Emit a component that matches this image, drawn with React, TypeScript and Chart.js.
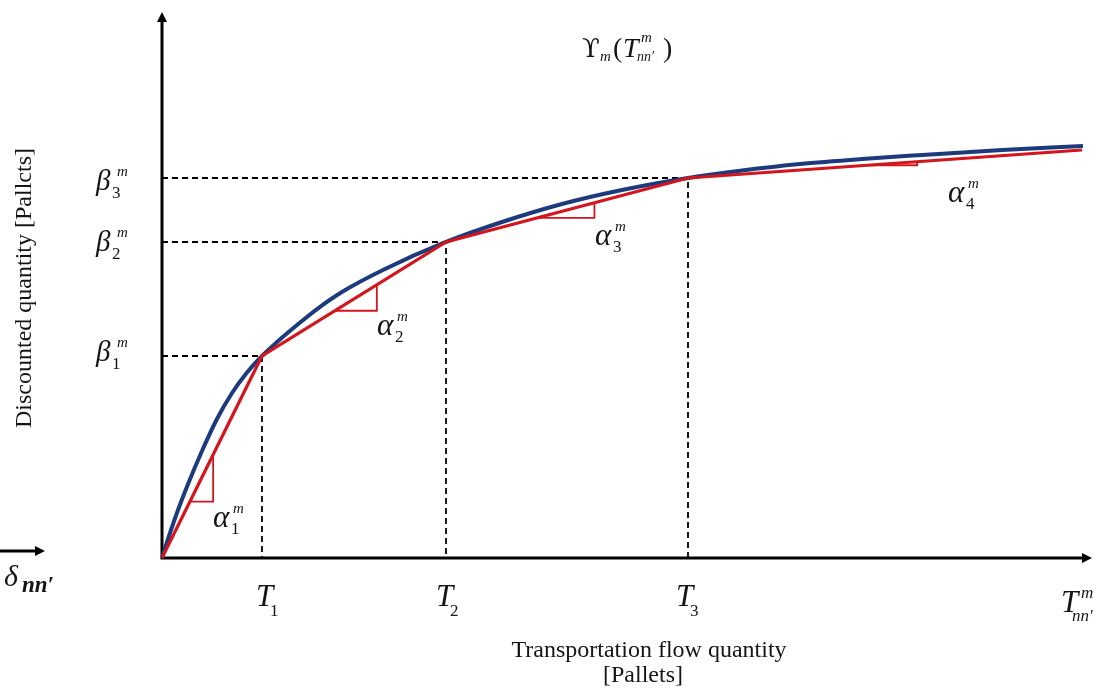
import React, { useEffect, useRef } from "react";
import { Chart, registerables } from "chart.js";

Chart.register(...registerables);

const W = 1113;
const H = 695;

// Smooth (blue) discount function
const blueX = [0, 0.86, 1.72, 2.8, 4.3, 5.91, 7.53, 9.14, 10.75, 12.37, 14.52, 16.67, 19.35, 23.76, 30.54, 36.56, 43.01, 49.46, 56.56, 62.37, 68.6, 75.27, 81.72, 90.32, 99.03];
const blueY = [0, 4.58, 8.79, 13.55, 19.6, 25.46, 30.22, 33.97, 37.0, 39.56, 42.67, 45.6, 48.72, 52.75, 57.88, 61.54, 64.84, 67.4, 69.6, 70.97, 72.16, 73.08, 73.81, 74.73, 75.46];

// Piecewise-linear (red) approximation
const redX = [0, 10.75, 30.54, 56.56, 98.92];
const redY = [0, 37.0, 57.88, 69.6, 74.73];

// Breakpoints T1..T3 / beta1..beta3
const breakX = [10.75, 30.54, 56.56];
const breakY = [37.0, 57.88, 69.6];

// Slope triangles
const triX1 = [3.0, 18.6, 40.3, 75.8];
const triX2 = [5.5, 23.1, 46.5, 81.2];
const triYLow = [10.33, 45.28, 62.28, 71.93];
const triYHigh = [18.93, 50.03, 65.07, 72.58];

const SERIF = '"Liberation Serif", "Times New Roman", serif';
const INK = "#151515";

function txt(ctx: CanvasRenderingContext2D, s: string, x: number, y: number, font: string, align: CanvasTextAlign = "left") {
  ctx.font = font;
  ctx.textAlign = align;
  ctx.textBaseline = "alphabetic";
  ctx.fillText(s, x, y);
}

function arrowHead(ctx: CanvasRenderingContext2D, x: number, y: number, dir: "right" | "up", len = 10, half = 5) {
  ctx.beginPath();
  if (dir === "right") {
    ctx.moveTo(x, y);
    ctx.lineTo(x - len, y - half);
    ctx.lineTo(x - len, y + half);
  } else {
    ctx.moveTo(x, y);
    ctx.lineTo(x - half, y + len);
    ctx.lineTo(x + half, y + len);
  }
  ctx.closePath();
  ctx.fill();
}

const axesPlugin = {
  id: "axesPlugin",
  beforeDatasetsDraw(chart: any) {
    const ctx: CanvasRenderingContext2D = chart.ctx;
    const xs = chart.scales.x;
    const ys = chart.scales.y;
    const x0 = xs.getPixelForValue(0);
    const y0 = ys.getPixelForValue(0);
    const xEnd = xs.getPixelForValue(100);
    const yEnd = ys.getPixelForValue(100);
    ctx.save();
    ctx.strokeStyle = "#000";
    ctx.fillStyle = "#000";
    ctx.lineWidth = 3;
    ctx.beginPath();
    ctx.moveTo(x0 - 1.5, y0);
    ctx.lineTo(xEnd - 8, y0);
    ctx.moveTo(x0, y0 + 1.5);
    ctx.lineTo(x0, yEnd + 8);
    ctx.stroke();
    arrowHead(ctx, xEnd, y0, "right");
    arrowHead(ctx, x0, yEnd, "up");
    ctx.restore();
  },
};

const textPlugin = {
  id: "textPlugin",
  afterDraw(chart: any) {
    const ctx: CanvasRenderingContext2D = chart.ctx;
    ctx.save();
    ctx.fillStyle = INK;
    const it = (s: number) => `italic ${s}px ${SERIF}`;
    const rg = (s: number) => `${s}px ${SERIF}`;

    // alpha labels
    const alphas = [
      [213, 527],
      [377, 335],
      [595, 245],
      [948, 202],
    ];
    alphas.forEach(([x, y], i) => {
      txt(ctx, "α", x, y, it(31));
      txt(ctx, String(i + 1), x + 18, y + 7, rg(17));
      txt(ctx, "m", x + 20, y - 14, it(15));
    });

    // beta labels
    const betas = [361, 251, 190];
    betas.forEach((y, i) => {
      txt(ctx, "β", 96, y, it(29));
      txt(ctx, String(i + 1), 112, y + 8, rg(17));
      txt(ctx, "m", 117, y - 14, it(15));
    });

    // T labels
    const ts = [256, 436, 676];
    ts.forEach((x, i) => {
      txt(ctx, "T", x, 606, it(31));
      txt(ctx, String(i + 1), x + 14, 616, rg(17));
    });
    txt(ctx, "T", 1061, 612, it(31));
    txt(ctx, "m", 1081, 598, it(17));
    txt(ctx, "nn′", 1072, 621, it(17));

    // delta label with arrow
    ctx.strokeStyle = "#000";
    ctx.fillStyle = "#000";
    ctx.lineWidth = 3;
    ctx.beginPath();
    ctx.moveTo(0, 551);
    ctx.lineTo(38, 551);
    ctx.stroke();
    arrowHead(ctx, 45, 551, "right", 10, 5);
    ctx.fillStyle = INK;
    txt(ctx, "δ", 4, 586, it(30));
    txt(ctx, "nn′", 22, 592, `bold italic 23px ${SERIF}`);

    // function label
    txt(ctx, "ϒ", 582, 57, `26px "DejaVu Serif", ${SERIF}`);
    txt(ctx, "m", 600, 61, it(15));
    txt(ctx, "(", 613, 57, rg(28));
    txt(ctx, "T", 623, 57, it(28));
    txt(ctx, "m", 641, 42, it(15));
    txt(ctx, "nn′", 637, 61, it(14));
    txt(ctx, ")", 663, 57, rg(28));

    // axis titles
    txt(ctx, "Transportation flow quantity", 649, 657, rg(24), "center");
    txt(ctx, "[Pallets]", 643, 682, rg(24), "center");
    ctx.translate(25, 288);
    ctx.rotate(-Math.PI / 2);
    ctx.textBaseline = "middle";
    ctx.font = rg(24);
    ctx.textAlign = "center";
    ctx.fillText("Discounted quantity [Pallcts]", 0, 0);
    ctx.restore();
  },
};

export default function App() {
  const ref = useRef<HTMLCanvasElement | null>(null);

  useEffect(() => {
    document.body.style.margin = "0";
    const canvas = ref.current;
    if (!canvas) return;

    const pts = (xs: number[], ys: number[]) => xs.map((x, i) => ({ x, y: ys[i] }));

    const dashSets = breakX.map((t, i) => ({
      label: `dash${i}`,
      data: [
        { x: 0, y: breakY[i] },
        { x: t, y: breakY[i] },
        { x: t, y: 0 },
      ],
      showLine: true,
      borderColor: "#000",
      borderWidth: 1.8,
      borderDash: [6, 4],
      pointRadius: 0,
      tension: 0,
      clip: false as any,
      order: 4,
    }));

    const triSets = triX1.map((x1, i) => ({
      label: `tri${i}`,
      data: [
        { x: x1, y: triYLow[i] },
        { x: triX2[i], y: triYLow[i] },
        { x: triX2[i], y: triYHigh[i] },
      ],
      showLine: true,
      borderColor: "#d2161c",
      borderWidth: 1.8,
      pointRadius: 0,
      tension: 0,
      clip: false as any,
      order: 3,
    }));

    const chart = new Chart(canvas, {
      type: "scatter",
      data: {
        datasets: [
          {
            label: "piecewise",
            data: pts(redX, redY),
            showLine: true,
            borderColor: "#d2161c",
            borderWidth: 3.2,
            pointRadius: 0,
            tension: 0,
            clip: false as any,
            order: 0,
          },
          {
            label: "curve",
            data: pts(blueX, blueY),
            showLine: true,
            borderColor: "#1c3a7c",
            borderWidth: 4,
            pointRadius: 0,
            cubicInterpolationMode: "monotone",
            clip: false as any,
            order: 1,
          },
          ...triSets,
          ...dashSets,
        ] as any,
      },
      options: {
        responsive: false,
        animation: false,
        devicePixelRatio: 1,
        layout: { padding: { left: 162, right: 21, top: 12, bottom: 137 } },
        plugins: { legend: { display: false }, tooltip: { enabled: false }, title: { display: false } },
        scales: {
          x: { type: "linear", min: 0, max: 100, display: false },
          y: { type: "linear", min: 0, max: 100, display: false },
        },
        events: [],
      },
      plugins: [axesPlugin, textPlugin],
    });

    return () => chart.destroy();
  }, []);

  return (
    <div style={{ width: W, height: H, position: "relative", background: "#fff" }}>
      <canvas ref={ref} width={W} height={H} style={{ display: "block", width: W, height: H }} />
    </div>
  );
}
